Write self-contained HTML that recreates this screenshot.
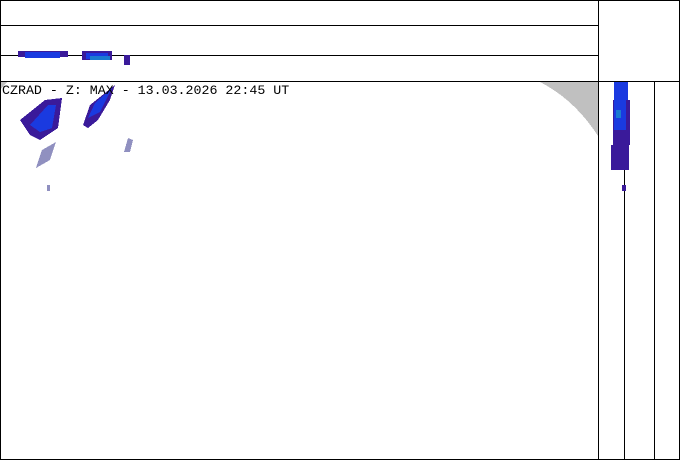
<!DOCTYPE html>
<html><head><style>body{margin:0;background:#fff}svg{display:block}</style></head><body>
<svg width="680" height="460" xmlns="http://www.w3.org/2000/svg" shape-rendering="crispEdges">
<rect width="680" height="460" fill="#fff"/>
<path d="M540 82 L598 82 L598 136 Q575 100 540 82 Z" fill="#c0c0c0"/>
<path d="M0 82 L7 82 L0 90 Z" fill="#c0c0c0"/>
<g stroke="#000" stroke-width="1">
<line x1="0" y1="25.5" x2="598" y2="25.5"/>
<line x1="0" y1="55.5" x2="598" y2="55.5"/>
<line x1="0" y1="81.5" x2="680" y2="81.5"/>
<line x1="598.5" y1="0" x2="598.5" y2="460"/>
<line x1="624.5" y1="81" x2="624.5" y2="460"/>
<line x1="654.5" y1="81" x2="654.5" y2="460"/>
<line x1="0.5" y1="0" x2="0.5" y2="460"/>
<line x1="0" y1="0.5" x2="680" y2="0.5"/>
<line x1="679.5" y1="0" x2="679.5" y2="460"/>
<line x1="0" y1="459.5" x2="680" y2="459.5"/>
</g>
<rect x="18" y="51" width="50" height="6" fill="#3a1a9a"/>
<rect x="25" y="52" width="35" height="6" fill="#1a3ae0"/>
<rect x="82" y="51" width="30" height="9" fill="#3a1a9a"/>
<rect x="86" y="53" width="22" height="6" fill="#1a3ae0"/>
<rect x="124" y="55" width="6" height="10" fill="#3a1a9a"/>
<rect x="90" y="56" width="20" height="4" fill="#1a7ad0"/>
<polygon points="20,120 45,100 62,98 58,128 40,140 30,135" fill="#3a1a9a"/>
<polygon points="30,125 48,105 56,105 52,128 40,132" fill="#1a3ae0"/>
<polygon points="83,125 90,105 115,85 110,100 98,120 88,128" fill="#3a1a9a"/>
<polygon points="88,118 95,103 112,88 100,112" fill="#1a3ae0"/>
<polygon points="36,168 42,150 56,142 50,160" fill="#9090c0"/>
<polygon points="124,152 128,138 133,140 130,152" fill="#9090c0"/>
<rect x="47" y="185" width="3" height="6" fill="#9090c0"/>
<rect x="614" y="82" width="14" height="18" fill="#1a3ae0"/>
<rect x="613" y="100" width="17" height="45" fill="#3a1a9a"/>
<rect x="614" y="100" width="12" height="30" fill="#1a3ae0"/>
<rect x="616" y="110" width="5" height="8" fill="#1a7ad0"/>
<rect x="611" y="145" width="18" height="25" fill="#3a1a9a"/>
<rect x="622" y="185" width="4" height="6" fill="#3a1a9a"/>
<text x="2" y="94" font-family="Liberation Mono, monospace" font-size="13.3" fill="#000">CZRAD - Z: MAX - 13.03.2026 22:45 UT</text>
</svg>
</body></html>
